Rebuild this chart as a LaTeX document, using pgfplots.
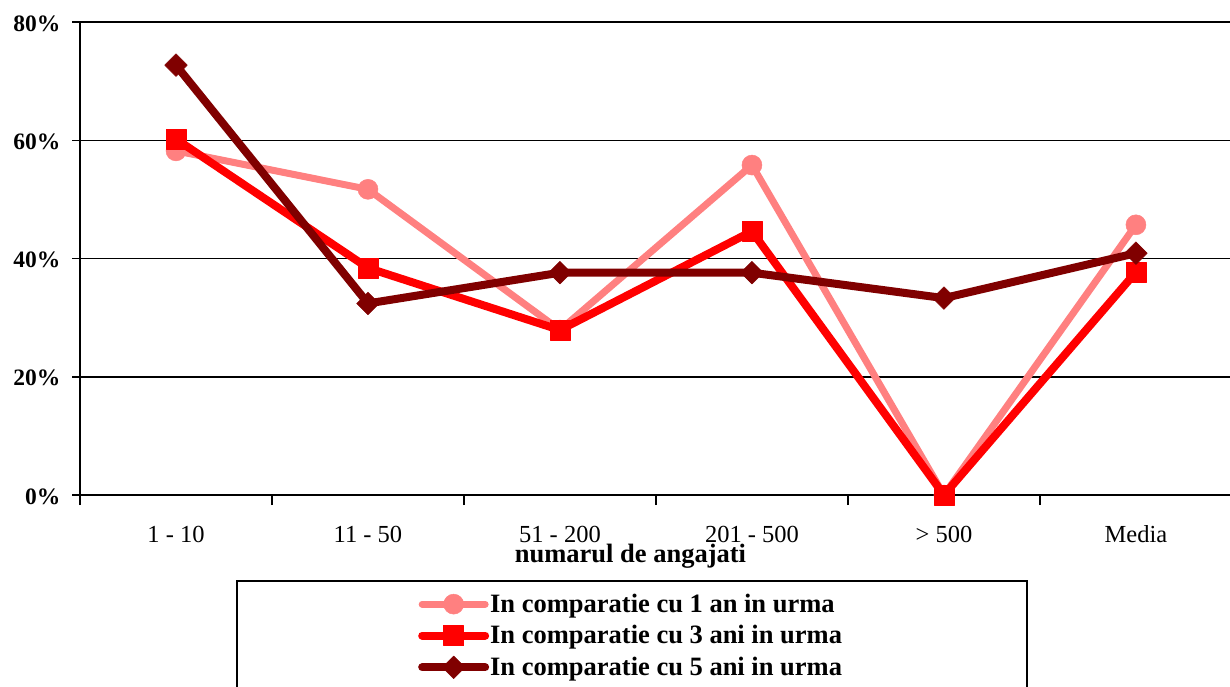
\documentclass[border=0pt]{standalone}
\usepackage{pgfplots}
\pgfplotsset{compat=1.18}
\usepackage{fontspec}
\setmainfont{Liberation Serif}

\definecolor{seriesA}{RGB}{255,128,128}
\definecolor{seriesB}{RGB}{255,0,0}
\definecolor{seriesC}{RGB}{128,0,0}

\begin{document}
\begin{tikzpicture}[x=1pt,y=1pt]
\useasboundingbox (0,0) rectangle (1230,686);
\clip (0,0) rectangle (1230,686);
% frame around the legend
\draw[line width=2pt] (237,105) rectangle (1027,-20);
\begin{axis}[
  at={(80pt,191pt)}, anchor=south west,
  scale only axis, width=1152pt, height=473pt,
  xmin=-0.5, xmax=5.5, ymin=0, ymax=80,
  axis x line*=bottom, axis y line*=left,
  axis line style={line width=2pt, -},
  tick align=outside,
  major tick length=8pt, minor tick length=10pt,
  tick style={black, line width=1.5pt},
  every major x tick/.append style={draw=none},
  xtick={0,...,5},
  minor xtick={-0.5,0.5,...,5.5},
  xticklabels={1 - 10, 11 - 50, 51 - 200, 201 - 500, > 500, Media},
  xticklabel style={font=\fontsize{24.5pt}{28pt}\selectfont, anchor=base, yshift=-39pt},
  ytick={0,20,40,60,80},
  yticklabels={\textbf{0\%},\textbf{20\%},\textbf{40\%},\textbf{60\%},\textbf{80\%}},
  yticklabel style={font=\fontsize{23.5pt}{28pt}\selectfont, xshift=-8pt, yshift=-1.5pt},
  ymajorgrids,
  major grid style={black, line width=1.5pt},
  xlabel={numarul de angajati},
  xlabel style={font=\bfseries\fontsize{26.5pt}{30pt}\selectfont, at={(axis description cs:0.4779,0)}, anchor=base, yshift=-67pt},
  clip mode=individual,
  legend style={draw=none, fill=none, at={(axis description cs:0.2934,-0.2072)}, anchor=north west,
    font=\bfseries\fontsize{26.5pt}{30pt}\selectfont, row sep=9.5pt, inner sep=0pt, nodes={inner sep=1pt}},
  legend cell align=left,
  legend image code/.code={\draw[#1, line cap=round, mark repeat=2, mark phase=2] plot coordinates {(0pt,0pt) (31.5pt,0pt) (63pt,0pt)};},
]
\addplot[seriesA, line width=7pt, line join=round, mark=*, mark size=10pt, mark options={solid, line width=0.5pt}]
  coordinates {(0,58.2) (1,51.7) (2,27.9) (3,55.8) (4,0) (5,45.7)};
\addlegendentry{In comparatie cu 1 an in urma}
\addplot[seriesB, line width=8pt, line join=round, mark=square*, mark size=10pt, mark options={solid, line width=0.5pt}]
  coordinates {(0,60.2) (1,38.4) (2,27.9) (3,44.6) (4,0) (5,37.7)};
\addlegendentry{In comparatie cu 3 ani in urma}
\addplot[seriesC, line width=8pt, line join=round, mark=square*, mark size=8pt, mark options={solid, rotate=45, line width=0.5pt}]
  coordinates {(0,72.7) (1,32.4) (2,37.6) (3,37.6) (4,33.3) (5,40.9)};
\addlegendentry{In comparatie cu 5 ani in urma}
\end{axis}
\end{tikzpicture}
\end{document}
